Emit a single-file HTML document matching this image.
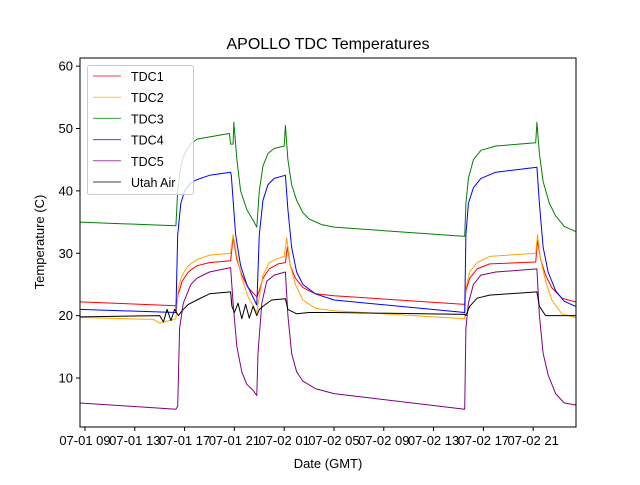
<!DOCTYPE html>
<html><head><meta charset="utf-8">
<style>
body{margin:0;background:#fff;}
svg text{font-family:"Liberation Sans",sans-serif;}
</style></head>
<body>
<svg id="chart" width="640" height="480" viewBox="0 0 640 480">
<rect width="640" height="480" fill="#fff"/>
<text x="328" y="49" text-anchor="middle" font-size="16">APOLLO TDC Temperatures</text>
<g id="plot"></g>
<rect x="80" y="58" width="496" height="369" fill="none" stroke="#000" stroke-width="1"/>
<g id="axes"></g>
<text x="328" y="468" text-anchor="middle" font-size="13">Date (GMT)</text>
<text transform="translate(44,242) rotate(-90)" text-anchor="middle" font-size="13">Temperature (C)</text>
<g id="legend"></g>
</svg>
<script>
// hours since 07-01 09
const xTickHours=[0,4,8,12,16,20,24,28,32,36];
const xTickLabels=["07-01 09","07-01 13","07-01 17","07-01 21","07-02 01","07-02 05","07-02 09","07-02 13","07-02 17","07-02 21"];
const yTicks=[10,20,30,40,50,60];
const seriesNames=["TDC1","TDC2","TDC3","TDC4","TDC5","Utah Air"];
const seriesColors=["#ff0000","#ffa500","#008000","#0000ff","#800080","#000000"];
const tdc1T=[-0.4,7.3,7.5,7.8,8.3,9,10,11.7,11.9,12.2,12.6,13.1,13.8,14.0,14.3,14.8,15.5,16.1,16.25,16.5,16.9,17.5,18.5,20,30.5,30.6,30.9,31.5,32.5,36.2,36.35,36.6,37,37.5,38.3,39.4];
const tdc1V=[22.2,21.6,23.5,25.5,27,28,28.5,28.8,32.5,29,26.5,24.5,23,24,26,27.5,28.3,28.5,31,28,26,24.5,23.5,23.2,21.8,24,26,27.5,28.3,28.6,32,29,26.5,24.5,22.8,22.2];
const tdc2T=[-0.4,5.5,6,7.3,7.5,7.8,8.3,9,10,11.7,11.9,12.2,12.6,13.1,13.8,14.0,14.3,14.8,15.5,16.0,16.2,16.5,16.9,17.5,18.5,20,30.5,30.6,30.9,31.5,32.5,36.2,36.35,36.6,37,37.5,38.3,39.4];
const tdc2V=[19.7,19.4,18.8,19.5,24.5,26.5,28,29,29.7,30,33,29.5,26,23,20.5,23,26.5,28.5,29.2,29.5,32.5,28,25,22.5,21.2,20.8,19.5,24.5,27,28.5,29.5,30,33,29,25.5,22.5,20.3,19.7];
const tdc3T=[-0.4,7.3,7.45,7.7,8,8.5,9,11,11.6,11.7,11.9,11.95,12.2,12.5,13,13.5,13.8,14,14.3,14.7,15.2,16,16.1,16.3,16.6,17,17.5,18,19,20,30.5,30.6,30.8,31.2,31.8,33,36.2,36.3,36.5,36.8,37.3,37.8,38.5,39.4];
const tdc3V=[35,34.4,40,44,46,47.5,48.3,49,49.2,47.5,47.5,51,45,40,37,35.3,34.2,40,44,46,46.8,47.2,50.5,45,41,38.5,36.5,35.5,34.6,34.2,32.7,38,42,45,46.5,47.2,47.7,51,46,41.5,38,36,34.3,33.5];
const tdc4T=[-0.4,7.3,7.45,7.7,8,8.5,9,10,11.7,11.75,12.1,12.5,13,13.8,14,14.3,14.7,15.2,16.1,16.3,16.6,17,17.5,18.5,20,30.5,30.6,30.8,31.2,31.8,33,36.3,36.5,36.8,37.2,37.8,38.5,39.4];
const tdc4V=[21,20.5,33,38,40,41.3,41.8,42.5,43,42.5,33,28,25,21.7,33,38.5,41,42,42.5,37,31,27,25,23.5,22.5,20.5,33,38,40.5,42,43,43.8,38,31,27,24,22.3,21.5];
const tdc5T=[-0.4,7.3,7.45,7.6,7.9,8.5,9,10,11.7,11.9,12.2,12.6,13,13.5,13.8,13.9,14.2,14.6,15.2,16.1,16.3,16.6,17,17.5,18.5,20,30.5,30.6,30.8,31.2,31.8,33,36.3,36.5,36.8,37.2,37.8,38.5,39.4];
const tdc5V=[6,5,5.5,18,22,25,26,27,27.7,22,15,11,9,8,7.2,14,22,25.5,26.5,27,20,14,11,9.5,8.3,7.5,5,18,22,25,26.5,27,27.5,20,14,10.5,7.5,6,5.7];
const airT=[-0.4,6,6.3,6.6,6.9,7.2,7.5,7.8,8.3,9,10,11.7,11.8,12,12.3,12.6,12.9,13.2,13.5,13.8,14,14.5,15,16.1,16.3,17,18,20,30.5,30.6,30.9,31.5,32.5,36.3,36.5,37,39.4];
const airV=[19.8,20,19,21,19.2,21,20,20.8,21.8,22.5,23.5,23.8,21.5,20.5,22,19.5,21.8,19.6,21.5,20,21,21.8,22.5,22.7,21,20.3,20.5,20.5,20.2,20,21.5,22.8,23.3,23.8,21.5,20,20];
const seriesT=[tdc1T,tdc2T,tdc3T,tdc4T,tdc5T,airT];
const seriesV=[tdc1V,tdc2V,tdc3V,tdc4V,tdc5V,airV];

const X0=80,X1=576,Y0=58,Y1=427;
const xMin=-0.4,xMax=39.44,yMin=2.15,yMax=61.3;
function xs(h){return X0+(h-xMin)/(xMax-xMin)*(X1-X0);}
function ys(v){return Y1-(v-yMin)/(yMax-yMin)*(Y1-Y0);}
const NS="http://www.w3.org/2000/svg";
function mk(tag,attrs,parent){const e=document.createElementNS(NS,tag);for(const k in attrs)e.setAttribute(k,attrs[k]);parent.appendChild(e);return e;}
const plot=document.getElementById('plot');
[0,1,2,3,4,5].forEach(i=>{
  const pts=seriesT[i].map((t,j)=>xs(t).toFixed(1)+","+ys(seriesV[i][j]).toFixed(1)).join(" ");
  const pl=mk('polyline',{points:pts,fill:'none',stroke:seriesColors[i],'stroke-width':1,'stroke-linejoin':'round'},plot);
  
  
});
const axes=document.getElementById('axes');
xTickHours.forEach((h,i)=>{
  const x=xs(h);
  const l=mk('line',{x1:x,x2:x,y1:Y1,y2:Y1+4,stroke:'#000'},axes);
  
  
  const t=mk('text',{x:x,y:Y1+18,'text-anchor':'middle','font-size':13},axes);
  t.textContent=xTickLabels[i];
  
  
});
yTicks.forEach(v=>{
  const y=ys(v);
  const l=mk('line',{x1:X0-4,x2:X0,y1:y,y2:y,stroke:'#000'},axes);
  
  
  const t=mk('text',{x:X0-7,y:y+4.5,'text-anchor':'end','font-size':13},axes);
  t.textContent=v;
  
  
});
const lg=document.getElementById('legend');
const box=mk('rect',{x:87.5,y:65.5,width:106,height:129,rx:2,fill:'#fff','fill-opacity':0.8,stroke:'#ccc'},lg);


seriesNames.forEach((n,i)=>{
  const y=76+i*21.2;
  const l=mk('line',{x1:93,x2:121,y1:y,y2:y,stroke:seriesColors[i],'stroke-width':1,'stroke-opacity':0.75},lg);
  
  
  const t=mk('text',{x:131,y:y+5,'font-size':12.5},lg);
  t.textContent=n;
  
  
});
</script>
</body></html>
